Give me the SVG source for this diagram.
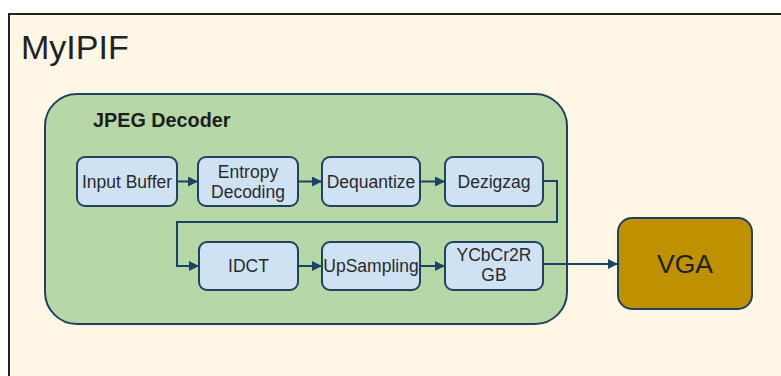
<svg xmlns="http://www.w3.org/2000/svg" width="781" height="376" viewBox="0 0 781 376">
  <defs>
    <style>
      .frame { fill: #fff6e5; stroke: #222222; stroke-width: 2; }
      .group { fill: #b6d7a8; stroke: #21425c; stroke-width: 2; }
      .block { fill: #cfe2f3; stroke: #21425c; stroke-width: 2; }
      .vga { fill: #bf9000; stroke: #21425c; stroke-width: 2; }
      .wire { fill: none; stroke: #1e4266; stroke-width: 2; marker-end: url(#head); }
      text { font-family: "Liberation Sans", Arial, sans-serif; fill: #222222; }
      .label { font-size: 17.5px; text-anchor: middle; fill: #2a2a2a; }
      .title { font-size: 34px; }
      .group-title { font-size: 19.8px; font-weight: bold; fill: #1e1e1e; }
      .vga-label { font-size: 26.5px; text-anchor: middle; }
    </style>
    <marker id="head" viewBox="0 0 10 10" refX="10" refY="5" markerWidth="11" markerHeight="10" markerUnits="userSpaceOnUse" orient="auto">
      <path d="M0,0 L10,5 L0,10 Z" fill="#1e4266"/>
    </marker>
  </defs>

  <!-- outer IP interface frame -->
  <g id="myipif">
    <rect class="frame" x="9" y="14" width="790" height="380"/>
    <text class="title" x="21" y="59">MyIPIF</text>
  </g>

  <!-- decoder container -->
  <g id="jpeg-decoder">
    <rect class="group" x="45" y="94" width="522" height="230" rx="32" ry="32"/>
    <text class="group-title" x="93" y="127">JPEG Decoder</text>
  </g>

  <g id="input-buffer">
    <rect class="block" x="77" y="157" width="100" height="49" rx="8"/>
    <text class="label" x="127" y="188">Input Buffer</text>
  </g>
  <g id="entropy-decoding">
    <rect class="block" x="198" y="157" width="100" height="49" rx="8"/>
    <text class="label" x="248" y="178">Entropy</text>
    <text class="label" x="248" y="198">Decoding</text>
  </g>
  <g id="dequantize">
    <rect class="block" x="322" y="157" width="98" height="49" rx="8"/>
    <text class="label" x="371" y="188">Dequantize</text>
  </g>
  <g id="dezigzag">
    <rect class="block" x="445" y="157" width="98" height="49" rx="8"/>
    <text class="label" x="494" y="188">Dezigzag</text>
  </g>
  <g id="idct">
    <rect class="block" x="199" y="242" width="99" height="48" rx="8"/>
    <text class="label" x="248.5" y="272">IDCT</text>
  </g>
  <g id="upsampling">
    <rect class="block" x="322" y="242" width="98" height="48" rx="8"/>
    <text class="label" x="371" y="272">UpSampling</text>
  </g>
  <g id="ycbcr2rgb">
    <rect class="block" x="445" y="242" width="98" height="48" rx="8"/>
    <text class="label" x="494" y="261">YCbCr2R</text>
    <text class="label" x="494" y="281">GB</text>
  </g>

  <g id="vga">
    <rect class="vga" x="618" y="218" width="134" height="91" rx="14"/>
    <text class="vga-label" x="685" y="273">VGA</text>
  </g>

  <!-- data path -->
  <g id="connectors">
    <path class="wire" d="M177,181.5 H198"/>
    <path class="wire" d="M298,181.5 H322"/>
    <path class="wire" d="M420,181.5 H445"/>
    <path class="wire" d="M543,181 H557 V222 H177 V266 H199"/>
    <path class="wire" d="M298,266 H322"/>
    <path class="wire" d="M420,266 H445"/>
    <path class="wire" d="M543,264 H618"/>
  </g>
</svg>
